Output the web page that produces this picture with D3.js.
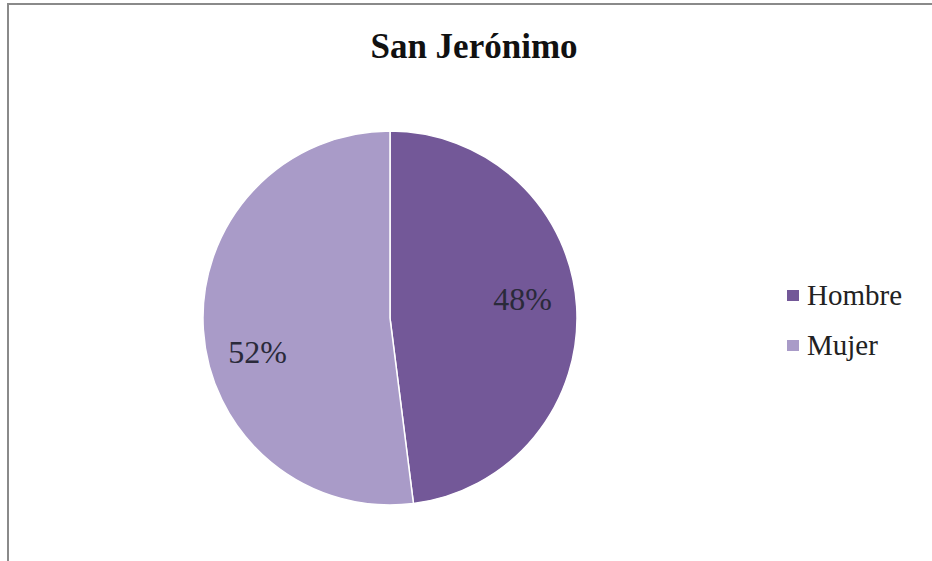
<!DOCTYPE html>
<html lang="es">
<head>
    <meta charset="UTF-8">
    <script src="https://d3js.org/d3.v7.min.js"></script>
    <title>San Jerónimo</title>
</head>
<style>
    html, body {
        margin: 0;
        padding: 0;
        background: #ffffff;
    }
    svg {
        display: block;
    }
    svg text {
        font-family: "Liberation Serif", "DejaVu Serif", serif;
    }
    #title {
        font-size: 35px;
        font-weight: bold;
        fill: #111;
    }
</style>
<body>
    <svg id="canvas"></svg>
</body>
<script>
let categories = ['Hombre', 'Mujer']
let values = [48, 52]
let colors = ['#735898', '#a99bc8']

let width = 932
let height = 561
let cx = 390
let cy = 318
let radius = 187

let svg = d3.select('#canvas')
    .attr('width', width)
    .attr('height', height)

// frame
svg.append('rect')
    .attr('x', 8)
    .attr('y', 4)
    .attr('width', width)
    .attr('height', height)
    .attr('fill', '#fff')
    .attr('stroke', '#8a8a8a')
    .attr('stroke-width', 2)

svg.append('text')
    .attr('id', 'title')
    .attr('x', 474)
    .attr('y', 58)
    .attr('text-anchor', 'middle')
    .text('San Jerónimo')

let pie = d3.pie().sort(null).value(d => d)
let arcs = pie(values)

let arc = d3.arc().innerRadius(0).outerRadius(radius)
let labelArc = d3.arc().innerRadius(radius * 0.71).outerRadius(radius * 0.71)

let g = svg.append('g')
    .attr('transform', 'translate(' + cx + ',' + cy + ')')

g.selectAll('path')
    .data(arcs)
    .enter()
    .append('path')
    .attr('d', arc)
    .attr('fill', (d, i) => colors[i])
    .attr('stroke', '#ffffff')
    .attr('stroke-width', 1.5)

let total = d3.sum(values)

// labels pushed away from the horizontal mid line a bit
g.selectAll('.label')
    .data(arcs)
    .enter()
    .append('text')
    .attr('class', 'label')
    .attr('transform', d => {
        let c = labelArc.centroid(d)
        return 'translate(' + c[0] + ',' + (c[1] * 3.2 + 7) + ')'
    })
    .attr('text-anchor', 'middle')
    .attr('dy', '0.35em')
    .attr('font-size', 32)
    .attr('fill', '#2a2a3a')
    .text(d => Math.round(d.value / total * 100) + '%')

// legend
let legend = svg.append('g')
    .attr('transform', 'translate(787, 295)')

let items = legend.selectAll('g')
    .data(categories)
    .enter()
    .append('g')
    .attr('transform', (d, i) => 'translate(0,' + (i * 50) + ')')

items.append('rect')
    .attr('x', 0)
    .attr('y', -5)
    .attr('width', 12)
    .attr('height', 11)
    .attr('fill', (d, i) => colors[i])

items.append('text')
    .attr('x', 20)
    .attr('y', 0)
    .attr('dy', '0.35em')
    .attr('font-size', 29)
    .attr('fill', '#222')
    .text(d => d)
</script>
</html>
